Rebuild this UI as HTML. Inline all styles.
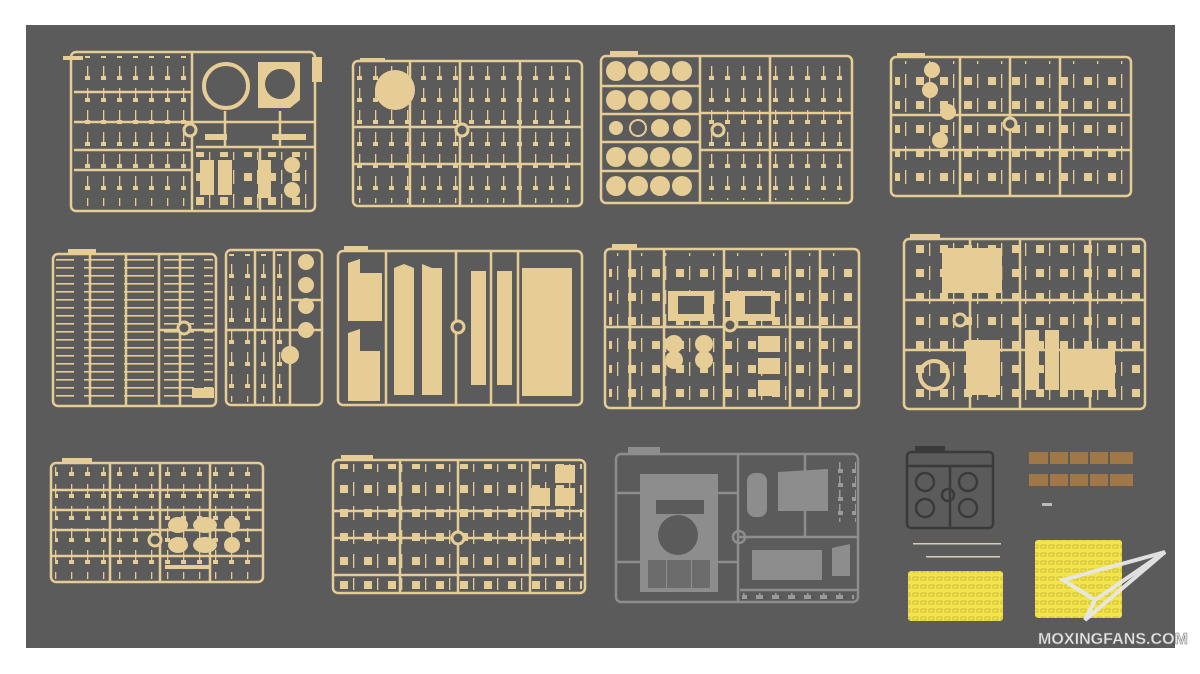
<!DOCTYPE html>
<html><head><meta charset="utf-8"><style>
html,body{margin:0;padding:0;background:#fff;width:1200px;height:674px;overflow:hidden}
svg{display:block}
</style></head><body>
<svg width="1200" height="674" viewBox="0 0 1200 674" xmlns="http://www.w3.org/2000/svg">
<defs>
<pattern id="p1" width="16" height="22" patternUnits="userSpaceOnUse">
<rect x="7" y="0" width="1.3" height="12" fill="#e6cd96"/>
<rect x="5" y="10" width="5" height="4" fill="#e6cd96"/>
</pattern>
<pattern id="p2" width="40" height="8" patternUnits="userSpaceOnUse">
<rect x="4" y="3" width="30" height="1.6" fill="#e6cd96"/>
</pattern>
<pattern id="p3" width="24" height="24" patternUnits="userSpaceOnUse">
<rect x="4" y="5" width="8" height="8" fill="#e6cd96"/>
<rect x="17" y="2" width="1.3" height="14" fill="#e6cd96"/>
</pattern>
<pattern id="pg" width="16" height="14" patternUnits="userSpaceOnUse">
<rect x="7" y="0" width="1.5" height="8" fill="#9a9a9a"/>
<rect x="4" y="7" width="7" height="4" fill="#9a9a9a"/>
</pattern>
<pattern id="py" width="8" height="8" patternUnits="userSpaceOnUse">
<rect width="8" height="8" fill="#f2e44a"/>
<rect x="1" y="1" width="5" height="3" fill="none" stroke="#b8aa30" stroke-width="0.6"/>
</pattern>
</defs>
<rect x="0" y="0" width="1200" height="674" fill="#fff"/>
<rect x="26" y="25" width="1149" height="623" fill="#5b5b5b"/>

<g stroke="#e6cd96" stroke-width="2.5" fill="none">
<rect x="71" y="52" width="244" height="159" rx="5"/>
<path d="M74 92H192M74 122H315M74 150H192M74 170H192M192 52V211M196 147H315M225 111V147M280 111V147M260 148V211"/>
<rect x="353" y="61" width="229" height="145" rx="5"/>
<path d="M353 127H582M353 164H582M410 61V206M460 61V206M520 61V206"/>
<rect x="601" y="56" width="251" height="147" rx="5"/>
<path d="M601 86H700M601 114H700M601 142H700M601 171H700M700 56V203M700 113H852M700 150H852M770 56V203"/>
<rect x="891" y="57" width="240" height="139" rx="5"/>
<path d="M891 115H1131M891 150H1131M960 57V196M1010 57V196M1060 57V196"/>
<rect x="53" y="254" width="163" height="152" rx="5"/>
<path d="M90 254V406M126 254V406M159 254V406M159 330H216M180 254V406"/>
<rect x="226" y="250" width="96" height="155" rx="5"/>
<path d="M226 330H322M255 250V405M274 250V405M290 250V405M290 300H322"/>
<rect x="338" y="251" width="244" height="154" rx="5"/>
<path d="M386 251V405M456 251V405M491 251V405M518 251V405"/>
<rect x="605" y="249" width="254" height="159" rx="5"/>
<path d="M605 327H859M630 249V408M664 249V408M724 249V408M790 249V408M820 249V408"/>
<rect x="904" y="239" width="241" height="170" rx="5"/>
<path d="M904 300H1145M904 350H1145M970 239V409M1020 239V409M1090 239V409"/>
<rect x="51" y="463" width="212" height="119" rx="5"/>
<path d="M51 490H263M51 510H263M51 530H263M51 556H263M110 463V582M160 463V582M210 463V582"/>
<rect x="333" y="460" width="252" height="133" rx="5"/>
<path d="M333 511H585M333 538H585M333 575H585M458 460V593M400 460V593M530 460V593"/>
</g>

<g>
<rect x="76" y="56" width="114" height="150" fill="url(#p1)"/>
<rect x="196" y="152" width="116" height="56" fill="url(#p3)"/>
<rect x="357" y="65" width="222" height="138" fill="url(#p1)"/>
<rect x="704" y="60" width="145" height="140" fill="url(#p1)"/>
<rect x="895" y="61" width="233" height="132" fill="url(#p3)"/>
<rect x="56" y="258" width="157" height="145" fill="url(#p2)"/>
<rect x="229" y="254" width="60" height="148" fill="url(#p1)"/>
<rect x="609" y="253" width="247" height="152" fill="url(#p3)"/>
<rect x="908" y="243" width="234" height="163" fill="url(#p3)"/>
<rect x="55" y="467" width="205" height="112" fill="url(#p1)"/>
<rect x="337" y="464" width="245" height="126" fill="url(#p3)"/>
</g>

<g fill="#e6cd96">
<rect x="63" y="56" width="20" height="4"/>
<rect x="312" y="57" width="10" height="25"/>
<circle cx="226" cy="86" r="22" fill="none" stroke="#e6cd96" stroke-width="4"/>
<path d="M258 62h42v38l-10 8h-32z"/><circle cx="280" cy="84" r="15" fill="#5b5b5b"/>
<rect x="200" y="160" width="14" height="35"/><rect x="218" y="160" width="14" height="35"/>
<rect x="258" y="160" width="13" height="38"/>
<circle cx="292" cy="165" r="8"/><circle cx="292" cy="190" r="8"/>
<rect x="205" y="134" width="22" height="6"/><rect x="272" y="134" width="34" height="6"/>
<circle cx="395" cy="90" r="20"/>
<rect x="360" y="58" width="25" height="4"/>
<circle cx="616" cy="71" r="10"/><circle cx="638" cy="71" r="10"/><circle cx="660" cy="71" r="10"/><circle cx="682" cy="71" r="10"/>
<circle cx="616" cy="100" r="10"/><circle cx="638" cy="100" r="10"/><circle cx="660" cy="100" r="10"/><circle cx="682" cy="100" r="10"/>
<circle cx="616" cy="128" r="7"/><circle cx="638" cy="128" r="8" fill="none" stroke="#e6cd96" stroke-width="2"/><circle cx="660" cy="128" r="9"/><circle cx="682" cy="128" r="9"/>
<circle cx="616" cy="157" r="10"/><circle cx="638" cy="157" r="10"/><circle cx="660" cy="157" r="10"/><circle cx="682" cy="157" r="10"/>
<circle cx="616" cy="186" r="10"/><circle cx="638" cy="186" r="10"/><circle cx="660" cy="186" r="10"/><circle cx="682" cy="186" r="10"/>
<rect x="610" y="51" width="28" height="5"/>
<rect x="897" y="53" width="28" height="5"/>
<circle cx="932" cy="70" r="8"/><circle cx="930" cy="90" r="8"/><circle cx="948" cy="112" r="8"/><circle cx="940" cy="140" r="8"/>
<rect x="68" y="249" width="28" height="5"/>
<circle cx="306" cy="262" r="8"/><circle cx="306" cy="285" r="8"/><circle cx="306" cy="306" r="8"/><circle cx="306" cy="330" r="8"/><circle cx="290" cy="355" r="9"/>
<rect x="192" y="388" width="22" height="10"/>
<rect x="344" y="246" width="24" height="5"/>
<path d="M348 263l12-4v14h22v48h-34z"/>
<path d="M348 333l12-4v22h20v50h-32z"/>
<path d="M394 268l10-4 10 4v127l-20 0z"/>
<path d="M422 264l10 4 10 0v127l-20 0z"/>
<rect x="471" y="271" width="15" height="114"/>
<rect x="497" y="271" width="15" height="114"/>
<rect x="522" y="268" width="50" height="128"/>
<rect x="612" y="244" width="25" height="5"/>
<rect x="668" y="291" width="45" height="30"/><rect x="678" y="296" width="26" height="18" fill="#5b5b5b"/>
<rect x="730" y="291" width="45" height="30"/><rect x="745" y="296" width="26" height="18" fill="#5b5b5b"/>
<circle cx="674" cy="344" r="9"/><circle cx="704" cy="344" r="9"/><circle cx="674" cy="360" r="9"/><circle cx="704" cy="360" r="9"/>
<rect x="758" y="336" width="22" height="16"/><rect x="758" y="358" width="22" height="16"/><rect x="758" y="380" width="22" height="16"/>
<rect x="910" y="234" width="30" height="5"/>
<rect x="942" y="248" width="60" height="45"/>
<path d="M966 340h34v55h-34z"/>
<rect x="1025" y="330" width="14" height="60"/><rect x="1045" y="330" width="14" height="60"/>
<rect x="1060" y="350" width="55" height="40"/>
<circle cx="934" cy="375" r="14" fill="none" stroke="#e6cd96" stroke-width="4"/>
<rect x="62" y="458" width="30" height="5"/>
<ellipse cx="178" cy="525" rx="10" ry="8"/><ellipse cx="205" cy="525" rx="12" ry="8"/><ellipse cx="232" cy="525" rx="8" ry="8"/>
<ellipse cx="178" cy="545" rx="10" ry="8"/><ellipse cx="205" cy="545" rx="12" ry="8"/><ellipse cx="232" cy="545" rx="8" ry="8"/>
<rect x="165" y="565" width="45" height="4"/>
<rect x="341" y="455" width="32" height="5"/>
<rect x="555" y="465" width="20" height="18"/><rect x="530" y="488" width="20" height="18"/><rect x="555" y="488" width="20" height="18"/>
</g>
<g fill="#5b5b5b" stroke="#e6cd96" stroke-width="3">
<circle cx="190" cy="130" r="6"/><circle cx="462" cy="130" r="6"/><circle cx="718" cy="130" r="6"/><circle cx="1010" cy="124" r="6"/>
<circle cx="184" cy="328" r="6"/><circle cx="458" cy="327" r="6"/><circle cx="730" cy="325" r="6"/><circle cx="960" cy="320" r="6"/>
<circle cx="155" cy="540" r="6"/><circle cx="458" cy="538" r="6"/>
</g>

<g stroke="#8d8d8d" stroke-width="2.5" fill="none">
<rect x="616" y="454" width="242" height="148" rx="5"/>
<path d="M738 454V602M738 537H858M616 493H738M616 562H738M805 454V537M740 590H858"/>
<circle cx="739" cy="537" r="6"/>
</g>
<rect x="628" y="447" width="32" height="6" fill="#8d8d8d"/>
<path d="M640 474h78v118h-78z" fill="#8d8d8d"/>
<circle cx="678" cy="535" r="20" fill="#5b5b5b"/>
<rect x="656" y="500" width="48" height="14" fill="#5b5b5b"/>
<rect x="648" y="560" width="18" height="28" fill="#6c6c6c"/><rect x="667" y="560" width="24" height="28" fill="#6c6c6c"/><rect x="692" y="560" width="18" height="28" fill="#6c6c6c"/>
<rect x="747" y="473" width="20" height="44" rx="8" fill="#8d8d8d"/>
<path d="M778 472l50-3v42h-50z" fill="#8d8d8d"/>
<path d="M752 550h70v30h-70z" fill="#8d8d8d"/>
<path d="M832 548l18-4v32h-18z" fill="#8d8d8d"/>
<rect x="742" y="593" width="112" height="8" fill="url(#pg)"/>
<rect x="838" y="462" width="18" height="60" fill="url(#pg)"/>

<g stroke="#3a3a3a" stroke-width="2.5" fill="none">
<rect x="907" y="452" width="86" height="76" rx="4"/>
<path d="M950 466V528M907 466H993"/>
<circle cx="925" cy="482" r="9"/><circle cx="968" cy="482" r="9"/><circle cx="925" cy="508" r="9"/><circle cx="968" cy="508" r="9"/><circle cx="948" cy="495" r="6"/>
</g>
<rect x="915" y="446" width="30" height="6" fill="#3a3a3a"/>
<rect x="913" y="543" width="88" height="1.5" fill="#d8cfb0"/>
<rect x="926" y="556" width="74" height="1.5" fill="#d8cfb0"/>
<rect x="1029" y="452" width="104" height="12" fill="#a07848"/>
<rect x="1029" y="474" width="104" height="12" fill="#a07848"/>
<g fill="#5b5b5b"><rect x="1048" y="452" width="2" height="12"/><rect x="1068" y="452" width="2" height="12"/><rect x="1088" y="452" width="2" height="12"/><rect x="1108" y="452" width="2" height="12"/><rect x="1048" y="474" width="2" height="12"/><rect x="1068" y="474" width="2" height="12"/><rect x="1088" y="474" width="2" height="12"/><rect x="1108" y="474" width="2" height="12"/></g>
<rect x="1042" y="503" width="10" height="3" fill="#bbb"/>
<rect x="908" y="571" width="95" height="50" rx="3" fill="url(#py)"/>
<rect x="1035" y="540" width="87" height="78" rx="3" fill="url(#py)"/>
<g fill="none" stroke="#e8e8e8" stroke-width="4" opacity="0.95">
<path d="M1165 552L1063 580L1095 600L1085 620Z"/>
<path d="M1165 552L1095 600"/>
</g>
<text x="1038" y="644" textLength="150" lengthAdjust="spacingAndGlyphs" font-family="Liberation Sans, sans-serif" font-weight="bold" font-size="16" fill="#e5e5e5" stroke="#777" stroke-width="0.5">MOXINGFANS.COM</text>
</svg>
</body></html>
